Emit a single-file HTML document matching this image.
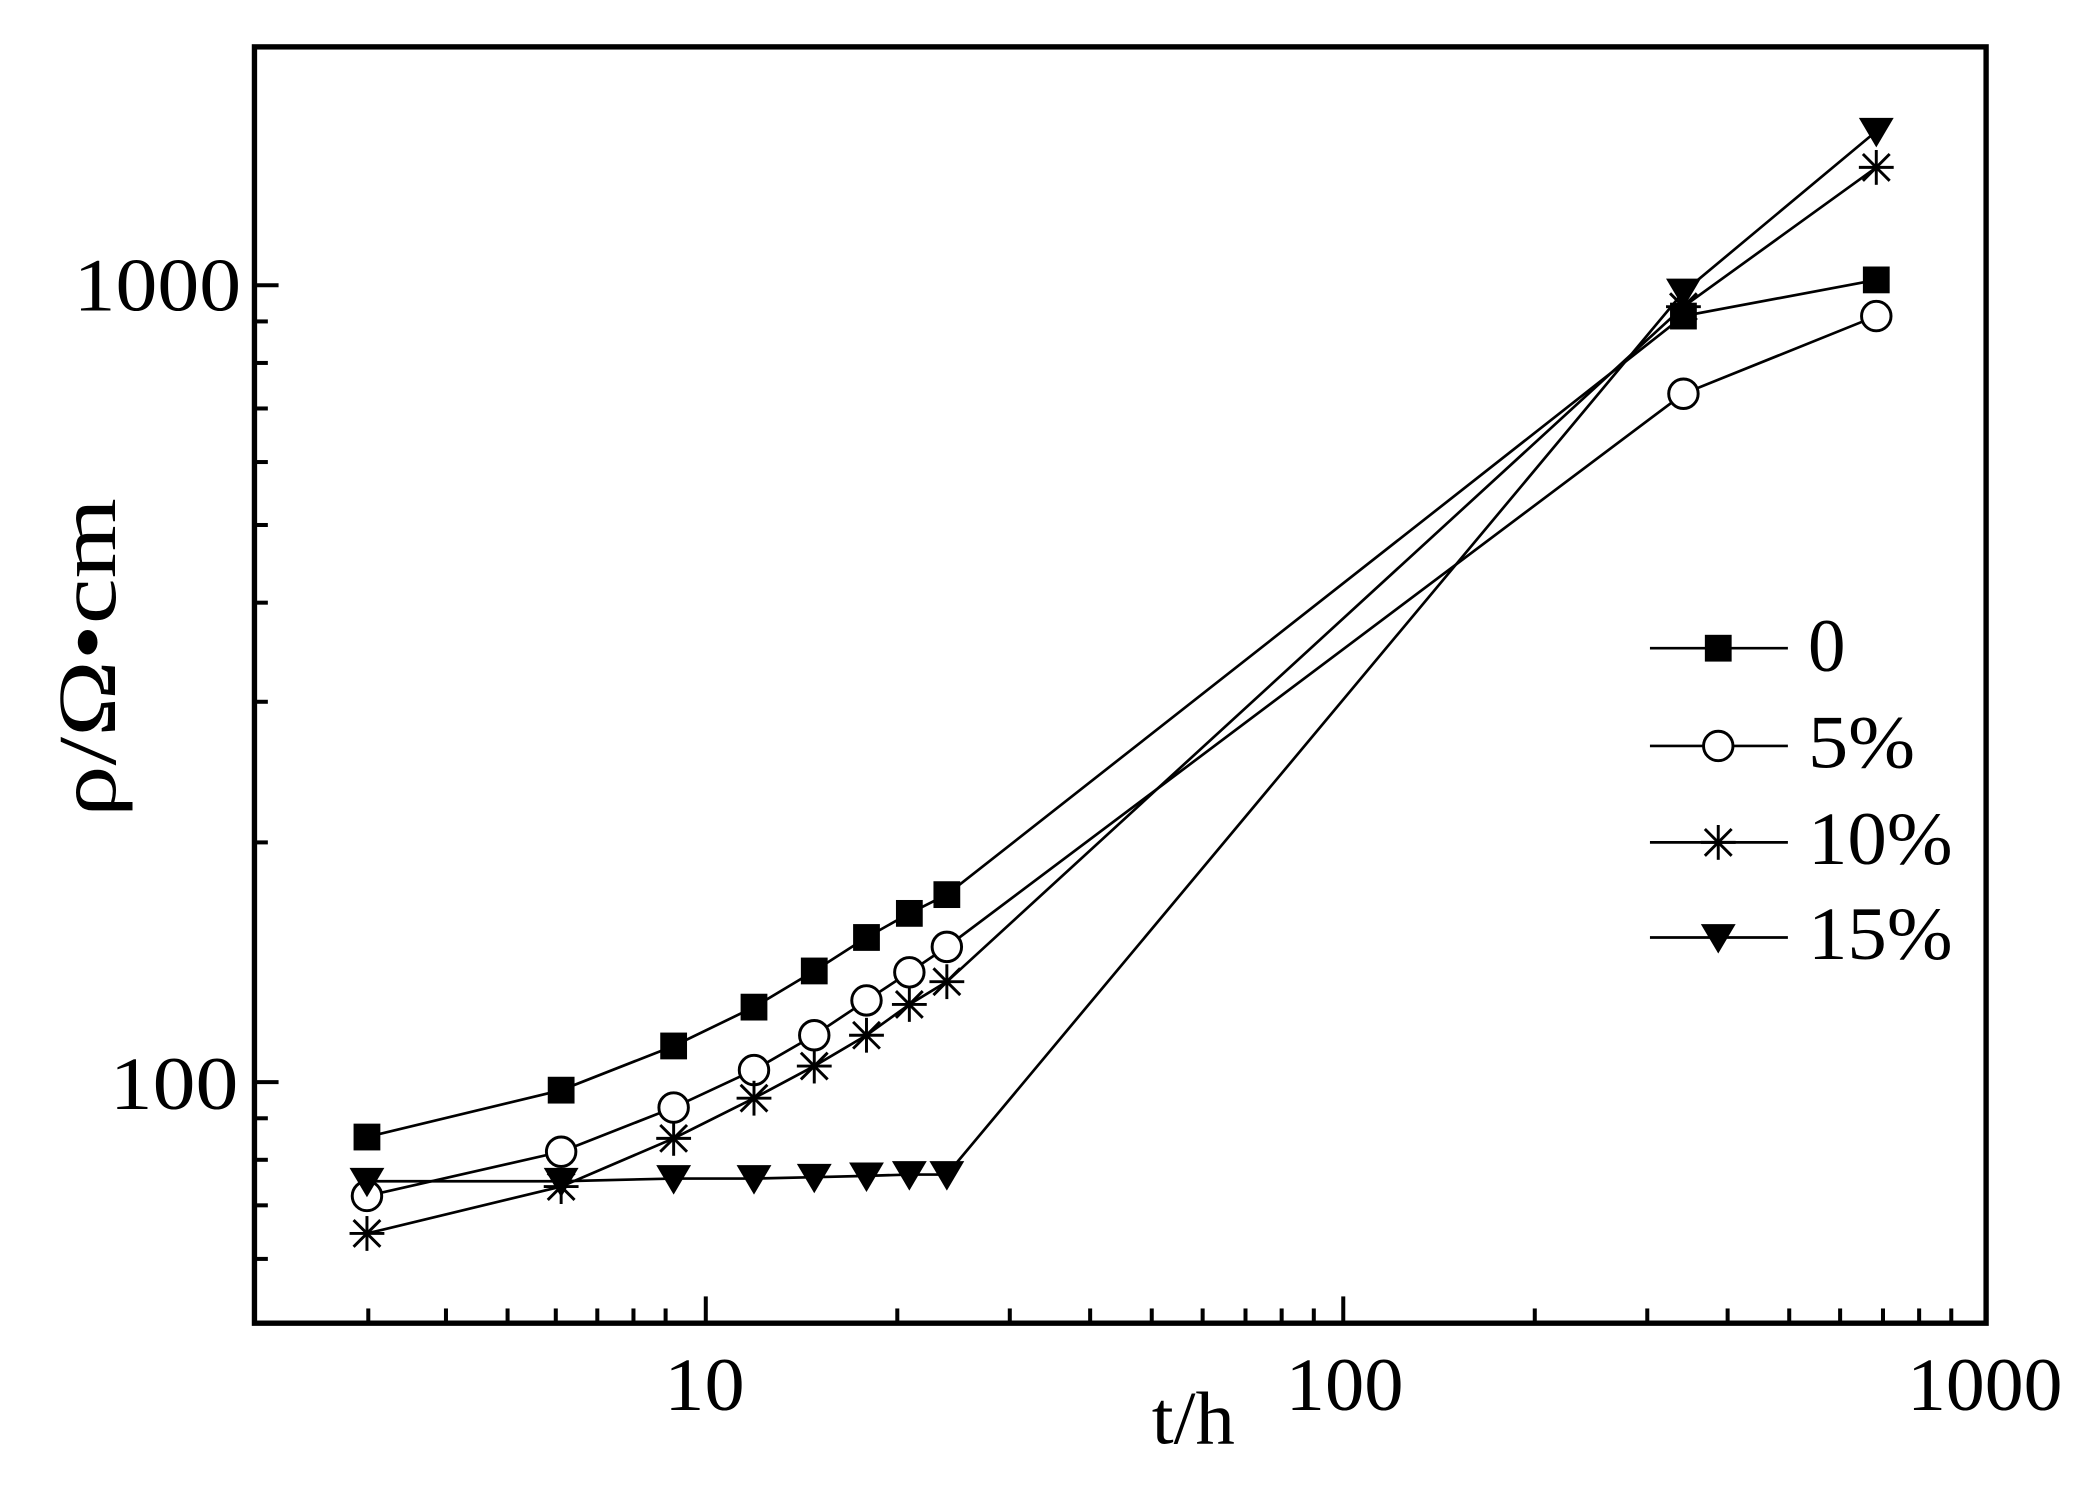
<!DOCTYPE html>
<html><head><meta charset="utf-8"><style>html,body{margin:0;padding:0;background:#fff}svg{display:block}</style></head>
<body>
<svg width="2099" height="1506" viewBox="0 0 1567.3 1124.5" preserveAspectRatio="none" xmlns="http://www.w3.org/2000/svg" font-family="Liberation Serif, serif">
<defs>
<g id="sq"><rect x="-10" y="-10" width="20" height="20" fill="#000"/></g>
<g id="ci"><circle r="11" fill="#fff" stroke="#000" stroke-width="2.2"/></g>
<g id="st" stroke="#000" stroke-width="2.2"><line x1="-13" y1="0" x2="13" y2="0"/><line x1="0" y1="-13" x2="0" y2="13"/><line x1="-10" y1="-10" x2="10" y2="10"/><line x1="-10" y1="10" x2="10" y2="-10"/></g>
<g id="tr"><polygon points="-13,-10 13,-10 0,12" fill="#000"/></g>
</defs>
<rect width="1570" height="1130" fill="#fff"/>
<g stroke="#000" stroke-width="3">
<line x1="527" y1="988" x2="527" y2="968"/><line x1="1003" y1="988" x2="1003" y2="968"/>
<line x1="275" y1="988" x2="275" y2="977"/><line x1="333" y1="988" x2="333" y2="977"/><line x1="379" y1="988" x2="379" y2="977"/><line x1="415" y1="988" x2="415" y2="977"/><line x1="446" y1="988" x2="446" y2="977"/><line x1="473" y1="988" x2="473" y2="977"/><line x1="497" y1="988" x2="497" y2="977"/>
<line x1="670" y1="988" x2="670" y2="977"/><line x1="754" y1="988" x2="754" y2="977"/><line x1="814" y1="988" x2="814" y2="977"/><line x1="860" y1="988" x2="860" y2="977"/><line x1="898" y1="988" x2="898" y2="977"/><line x1="930" y1="988" x2="930" y2="977"/><line x1="957" y1="988" x2="957" y2="977"/><line x1="981" y1="988" x2="981" y2="977"/>
<line x1="1146" y1="988" x2="1146" y2="977"/><line x1="1230" y1="988" x2="1230" y2="977"/><line x1="1290" y1="988" x2="1290" y2="977"/><line x1="1336" y1="988" x2="1336" y2="977"/><line x1="1374" y1="988" x2="1374" y2="977"/><line x1="1406" y1="988" x2="1406" y2="977"/><line x1="1433" y1="988" x2="1433" y2="977"/><line x1="1457" y1="988" x2="1457" y2="977"/>
<line x1="190" y1="213" x2="208" y2="213"/><line x1="190" y1="808" x2="208" y2="808"/>
<line x1="190" y1="940" x2="200" y2="940"/><line x1="190" y1="900" x2="200" y2="900"/><line x1="190" y1="866" x2="200" y2="866"/><line x1="190" y1="835" x2="200" y2="835"/>
<line x1="190" y1="629" x2="200" y2="629"/><line x1="190" y1="524" x2="200" y2="524"/><line x1="190" y1="450" x2="200" y2="450"/><line x1="190" y1="392" x2="200" y2="392"/><line x1="190" y1="345" x2="200" y2="345"/><line x1="190" y1="305" x2="200" y2="305"/><line x1="190" y1="271" x2="200" y2="271"/><line x1="190" y1="240" x2="200" y2="240"/>
</g>
<rect x="190" y="35" width="1293" height="953" fill="none" stroke="#000" stroke-width="4"/>
<g fill="none" stroke="#000" stroke-width="2">
<polyline points="274,849 419,814 503,781 563,752 608,725 647,700 679,682 707,668 1257,236 1401,209"/>
<polyline points="274,893 419,860 503,827 563,799 608,773 647,747 679,726 707,707 1257,294 1401,236"/>
<polyline points="274,921 419,886 503,850 563,820 608,796 647,773 679,750 707,733 1257,229 1401,125"/>
<polyline points="274,882 419,882 503,880 563,880 608,879 647,878 679,877 707,877 1257,218 1401,98"/>
</g>
<g>
<use href="#sq" x="274" y="849"/><use href="#sq" x="419" y="814"/><use href="#sq" x="503" y="781"/><use href="#sq" x="563" y="752"/><use href="#sq" x="608" y="725"/><use href="#sq" x="647" y="700"/><use href="#sq" x="679" y="682"/><use href="#sq" x="707" y="668"/><use href="#sq" x="1257" y="236"/><use href="#sq" x="1401" y="209"/>
<use href="#ci" x="274" y="893"/><use href="#ci" x="419" y="860"/><use href="#ci" x="503" y="827"/><use href="#ci" x="563" y="799"/><use href="#ci" x="608" y="773"/><use href="#ci" x="647" y="747"/><use href="#ci" x="679" y="726"/><use href="#ci" x="707" y="707"/><use href="#ci" x="1257" y="294"/><use href="#ci" x="1401" y="236"/>
<use href="#st" x="274" y="921"/><use href="#st" x="419" y="886"/><use href="#st" x="503" y="850"/><use href="#st" x="563" y="820"/><use href="#st" x="608" y="796"/><use href="#st" x="647" y="773"/><use href="#st" x="679" y="750"/><use href="#st" x="707" y="733"/><use href="#st" x="1257" y="229"/><use href="#st" x="1401" y="125"/>
<use href="#tr" x="274" y="882"/><use href="#tr" x="419" y="882"/><use href="#tr" x="503" y="880"/><use href="#tr" x="563" y="880"/><use href="#tr" x="608" y="879"/><use href="#tr" x="647" y="878"/><use href="#tr" x="679" y="877"/><use href="#tr" x="707" y="877"/><use href="#tr" x="1257" y="218"/><use href="#tr" x="1401" y="98"/>
</g>
<g stroke="#000" stroke-width="2">
<line x1="1232" y1="484" x2="1335" y2="484"/><line x1="1232" y1="557" x2="1335" y2="557"/><line x1="1232" y1="629" x2="1335" y2="629"/><line x1="1232" y1="700" x2="1335" y2="700"/>
</g>
<use href="#sq" x="1283" y="484"/><use href="#ci" x="1283" y="557"/><use href="#st" x="1283" y="629"/><use href="#tr" x="1283" y="700"/>
<g font-size="56" fill="#000">
<text x="1350" y="501" textLength="28" lengthAdjust="spacingAndGlyphs">0</text>
<text x="1350" y="573" textLength="80" lengthAdjust="spacingAndGlyphs">5%</text>
<text x="1350" y="645" textLength="108" lengthAdjust="spacingAndGlyphs">10%</text>
<text x="1350" y="716" textLength="108" lengthAdjust="spacingAndGlyphs">15%</text>
</g>
<g font-size="56" fill="#000">
<text x="55" y="232" textLength="125" lengthAdjust="spacingAndGlyphs">1000</text>
<text x="82" y="828" textLength="96" lengthAdjust="spacingAndGlyphs">100</text>
<text x="496" y="1053" textLength="60" lengthAdjust="spacingAndGlyphs">10</text>
<text x="960" y="1053" textLength="88" lengthAdjust="spacingAndGlyphs">100</text>
<text x="1424" y="1053" textLength="116" lengthAdjust="spacingAndGlyphs">1000</text>
<text x="860" y="1078" textLength="62" lengthAdjust="spacingAndGlyphs">t/h</text>
<text transform="translate(86,610) rotate(-90)" font-size="62" textLength="238" lengthAdjust="spacingAndGlyphs">ρ/Ω•cm</text>
</g>
</svg>
</body></html>
